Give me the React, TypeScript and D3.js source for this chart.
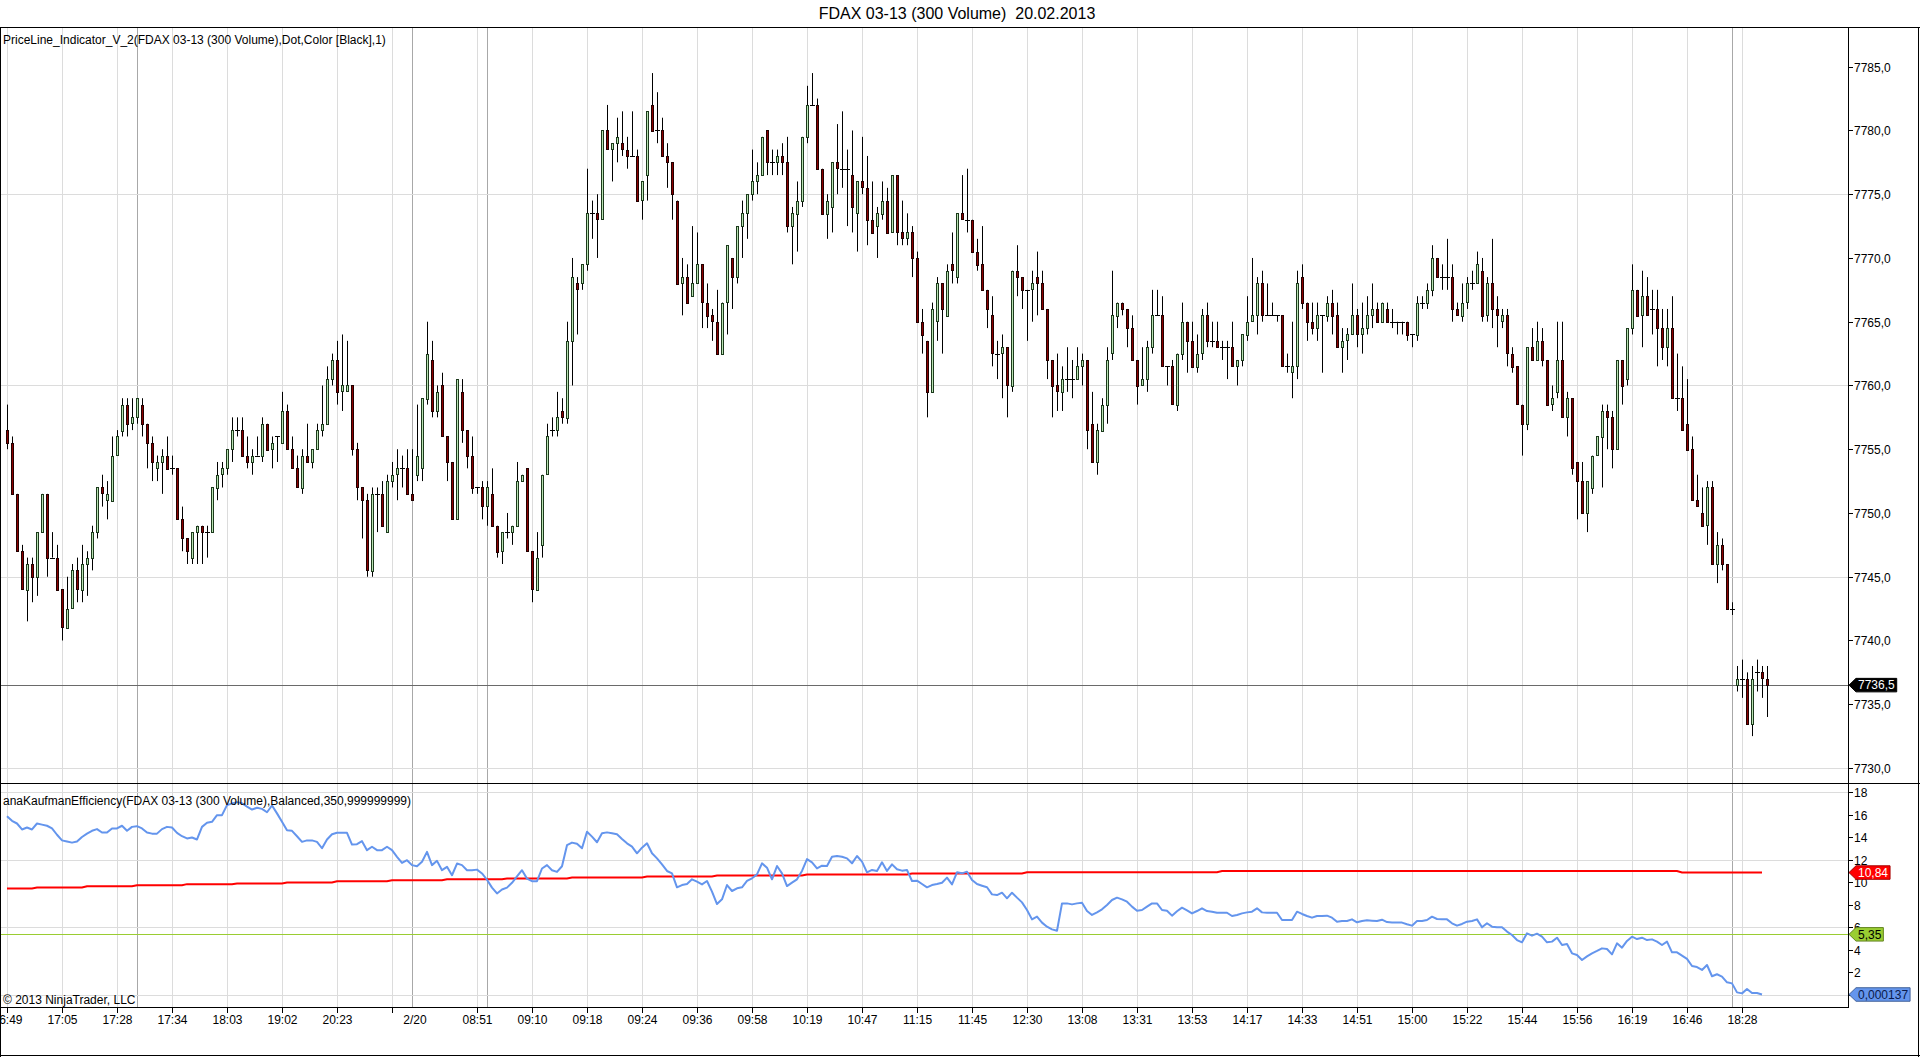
/**
 * FDAX 03-13 (300 Volume) candles with Kaufman efficiency sub-panel, NinjaTrader look
 */
import { useEffect, useRef } from 'react';
import * as d3 from 'd3';

// ---- price bars, one value per bar ----
const opens = [
  7756.5, 7755.5, 7751.5, 7747, 7744, 7746, 7745, 7748.5, 7751.5, 7746.5,
  7746.5, 7744, 7741, 7742.5, 7745.5, 7744, 7746, 7746.5, 7748.5, 7752,
  7751, 7751, 7754.5, 7756.5, 7758.5, 7757, 7757.5, 7758.5, 7757, 7755.5,
  7753.5, 7754, 7754.5, 7753.5, 7753.5, 7749.5, 7748, 7746.5, 7748.5, 7749,
  7748.5, 7748.5, 7752, 7753, 7753.5, 7755, 7756.5, 7756.5, 7754.5, 7754,
  7754.5, 7754.5, 7757, 7755, 7756, 7755.5, 7758, 7755, 7753.5, 7752,
  7754.5, 7754, 7755, 7756.5, 7757, 7760.5, 7762, 7759.5, 7759.5, 7760,
  7755, 7752, 7751, 7745.5, 7751.5, 7751.5, 7748.5, 7752.5, 7753, 7753.5,
  7753.5, 7751.5, 7753, 7753.5, 7759, 7762, 7758, 7760, 7756, 7754,
  7749.5, 7759.5, 7756.5, 7754.5, 7752, 7752, 7750.5, 7751.5, 7749, 7747,
  7748.5, 7748.5, 7749, 7752.5, 7753.5, 7747, 7744, 7747.5, 7753, 7756.5,
  7756.5, 7758, 7757.5, 7763.5, 7768, 7768, 7769.5, 7773.5, 7773.5, 7773,
  7780, 7778.5, 7779, 7779, 7778.5, 7778, 7778, 7774.5, 7776.5, 7782,
  7780, 7780, 7778, 7777.5, 7774.5, 7768, 7768.5, 7767, 7768, 7769.5,
  7766.5, 7765.5, 7765, 7762.5, 7766.5, 7770, 7768.5, 7772.5, 7773.5, 7775,
  7776, 7776.5, 7780, 7777.5, 7777.5, 7778, 7777.5, 7772.5, 7773.5, 7774.5,
  7779.5, 7782, 7782, 7777, 7773.5, 7774, 7777.5, 7777, 7777, 7776.5,
  7773.5, 7776, 7775.5, 7773, 7772.5, 7773.5, 7774.5, 7772, 7776.5, 7772,
  7771.5, 7772, 7770, 7765, 7763.5, 7759.5, 7765, 7768, 7765.5, 7769.5,
  7768.5, 7773.5, 7773, 7773, 7770.5, 7769.5, 7767.5, 7765.5, 7762.5, 7762.5,
  7763, 7760, 7769, 7768.5, 7767.5, 7767.5, 7768.5, 7768, 7766, 7762,
  7760, 7759.5, 7760.5, 7760.5, 7760.5, 7761.5, 7762, 7757, 7754, 7756.5,
  7758.5, 7762.5, 7765.5, 7766.5, 7766, 7764.5, 7762, 7760, 7760.5, 7763,
  7765.5, 7765.5, 7761.5, 7761.5, 7758.5, 7762.5, 7765, 7763.5, 7761.5, 7762.5,
  7765.5, 7763.5, 7763.5, 7763, 7763, 7763, 7761.5, 7762, 7764, 7765,
  7765.5, 7768, 7765.5, 7765.5, 7765.5, 7765.5, 7761.5, 7761, 7761.5, 7768.5,
  7766.5, 7765, 7764.5, 7765.5, 7765.5, 7766.5, 7765.5, 7763, 7763.5, 7764,
  7765.5, 7764, 7764.5, 7765.5, 7766, 7765, 7766, 7765, 7765, 7765,
  7765, 7764, 7764, 7766.5, 7766.5, 7767.5, 7770, 7768.5, 7768.5, 7768.5,
  7766, 7765.5, 7766.5, 7768, 7768, 7769, 7765.5, 7768, 7766, 7765,
  7765.5, 7762.5, 7761.5, 7758.5, 7757, 7763, 7762, 7763.5, 7762, 7758.5,
  7759.5, 7762, 7757.5, 7759, 7754, 7752.5, 7750, 7752, 7754.5, 7756,
  7758, 7757.5, 7755, 7762, 7760.5, 7764.5, 7767.5, 7765.5, 7767, 7766,
  7766, 7764.5, 7763, 7764.5, 7759, 7759, 7757, 7755, 7751, 7750,
  7749, 7752, 7746, 7747.5, 7746, 7742.5, 7736.5, 7737, 7737, 7733.5,
  7737.5, 7737.5, 7737,
];

const highs = [
  7758.5, 7756, 7751.5, 7747.5, 7746.5, 7746.5, 7748.5, 7751.5, 7751.5, 7748.5,
  7747.5, 7744, 7745, 7746, 7746.5, 7747.5, 7747, 7749, 7752, 7753,
  7752.5, 7756, 7756.5, 7759, 7759, 7759, 7759, 7759, 7757, 7756,
  7754.5, 7755, 7756, 7754.5, 7753.5, 7750.5, 7748, 7748.5, 7749, 7749,
  7749, 7752, 7754, 7754, 7755, 7757.5, 7757.5, 7757.5, 7756, 7755,
  7756, 7757.5, 7757, 7756, 7756, 7759.5, 7758.5, 7756, 7754.5, 7755,
  7757, 7755, 7757, 7760, 7761.5, 7762.5, 7763.5, 7764, 7763.5, 7760,
  7755.5, 7752, 7751.5, 7752, 7752, 7752.5, 7753, 7754, 7755, 7754.5,
  7755, 7755, 7758.5, 7759, 7765, 7763.5, 7760, 7761, 7756, 7754,
  7760.5, 7760.5, 7756.5, 7756, 7752, 7752.5, 7752.5, 7753.5, 7749, 7748.5,
  7750, 7749, 7754, 7753, 7753.5, 7747, 7748.5, 7753, 7757, 7757.5,
  7759.5, 7759, 7765, 7770, 7768.5, 7769.5, 7777, 7774.5, 7775, 7780,
  7782, 7779, 7781, 7781.5, 7779.5, 7781.5, 7778.5, 7776, 7781.5, 7784.5,
  7783, 7781, 7779, 7777.5, 7774.5, 7770, 7769.5, 7772.5, 7772, 7769.5,
  7768, 7766, 7767.5, 7766.5, 7771, 7770, 7772.5, 7774.5, 7775, 7778.5,
  7777.5, 7779.5, 7780, 7778.5, 7778.5, 7779, 7779.5, 7774, 7776, 7779.5,
  7783.5, 7784.5, 7782.5, 7777, 7775, 7777.5, 7780.5, 7781.5, 7778.5, 7780,
  7776, 7779.5, 7778, 7776, 7774, 7776, 7775.5, 7776.5, 7776.5, 7774.5,
  7773.5, 7772.5, 7770.5, 7766, 7763.5, 7766.5, 7768.5, 7768, 7769.5, 7772,
  7773.5, 7776.5, 7777, 7773, 7771.5, 7772.5, 7767.5, 7767, 7763.5, 7764,
  7763, 7769, 7771, 7768.5, 7767.5, 7769, 7770.5, 7769, 7766, 7762,
  7762.5, 7761.5, 7763, 7762, 7763, 7762.5, 7762, 7759.5, 7757, 7759,
  7763, 7769, 7766.5, 7766.5, 7766, 7765.5, 7762, 7763, 7763.5, 7767.5,
  7767.5, 7767, 7761.5, 7762, 7762.5, 7766.5, 7765, 7765, 7764, 7766,
  7766.5, 7765, 7765, 7763.5, 7763.5, 7765, 7762, 7764, 7767, 7770,
  7768.5, 7769, 7768, 7766.5, 7765.5, 7765.5, 7762.5, 7765, 7769, 7769.5,
  7766.5, 7766.5, 7766.5, 7765.5, 7767, 7767.5, 7766.5, 7764.5, 7764.5, 7768,
  7766, 7766.5, 7767, 7768, 7766.5, 7766.5, 7766.5, 7766, 7765, 7765,
  7765, 7764, 7767, 7767, 7768, 7771, 7770, 7769.5, 7771.5, 7769.5,
  7766.5, 7768, 7768.5, 7769, 7770.5, 7770, 7768.5, 7771.5, 7767, 7766,
  7766, 7763, 7761.5, 7758.5, 7763, 7764.5, 7765, 7764.5, 7762, 7760,
  7765, 7765, 7759.5, 7759, 7754, 7754, 7752.5, 7754.5, 7756, 7758.5,
  7758.5, 7758, 7762, 7762, 7764.5, 7769.5, 7767.5, 7769, 7768.5, 7767.5,
  7767.5, 7766, 7766, 7767, 7762.5, 7761.5, 7760.5, 7756, 7753, 7752,
  7752.5, 7752.5, 7748.5, 7748, 7746, 7743, 7738, 7738.5, 7737.5, 7738,
  7738.5, 7738, 7738,
];

const lows = [
  7755, 7751.5, 7747, 7744, 7741.5, 7743, 7743.5, 7748.5, 7745, 7746.5,
  7744, 7740, 7741, 7742.5, 7743, 7743, 7743.5, 7745.5, 7748, 7750.5,
  7749.5, 7751, 7754.5, 7756, 7756, 7756.5, 7757, 7756, 7753.5, 7752.5,
  7752.5, 7751.5, 7753.5, 7753, 7749.5, 7747, 7746, 7746, 7746, 7746,
  7746.5, 7748.5, 7751, 7752, 7753, 7754, 7756, 7754.5, 7753.5, 7753,
  7754.5, 7754, 7755, 7753.5, 7754, 7755.5, 7755, 7753.5, 7752, 7751.5,
  7754, 7753.5, 7755, 7756, 7757, 7760, 7758.5, 7758, 7759.5, 7754.5,
  7751, 7748, 7745, 7745, 7748.5, 7749, 7748.5, 7752, 7751, 7752,
  7751.5, 7751, 7752.5, 7752.5, 7758.5, 7757.5, 7757.5, 7756, 7752.5, 7749.5,
  7749.5, 7755.5, 7753.5, 7751.5, 7751.5, 7749.5, 7749, 7749, 7746.5, 7746,
  7748, 7747.5, 7749, 7752.5, 7747, 7743, 7744, 7746.5, 7753, 7756,
  7756, 7757, 7757, 7760, 7764, 7767.5, 7769, 7771.5, 7770, 7773,
  7778.5, 7776, 7777.5, 7778, 7777, 7778, 7774.5, 7773, 7774.5, 7780,
  7779, 7778, 7775.5, 7773, 7768, 7765.5, 7766.5, 7767, 7768, 7764.5,
  7764.5, 7763.5, 7762.5, 7762.5, 7764, 7766, 7768, 7770, 7771.5, 7774.5,
  7775, 7776.5, 7776.5, 7776.5, 7776.5, 7776.5, 7772, 7769.5, 7770.5, 7774,
  7779, 7782, 7777, 7773.5, 7771.5, 7772, 7775, 7775.5, 7772.5, 7772,
  7770.5, 7775, 7771, 7772, 7770, 7773, 7772, 7772, 7771, 7771,
  7771, 7768.5, 7765, 7762.5, 7757.5, 7759.5, 7763.5, 7762.5, 7765.5, 7768,
  7768, 7773, 7772, 7770.5, 7769, 7767.5, 7764.5, 7761.5, 7760.5, 7759,
  7757.5, 7759.5, 7767, 7766, 7763.5, 7765, 7765.5, 7766, 7760.5, 7757.5,
  7758, 7758, 7759.5, 7759, 7760.5, 7760, 7755, 7754, 7753, 7756.5,
  7757, 7762, 7764.5, 7765.5, 7763, 7762, 7758.5, 7760, 7759.5, 7762.5,
  7765.5, 7761.5, 7760, 7758.5, 7758, 7762, 7761, 7761.5, 7761, 7762,
  7763, 7763, 7763, 7762, 7760.5, 7761.5, 7760, 7761.5, 7763.5, 7765,
  7764, 7765, 7765.5, 7765.5, 7765, 7761.5, 7761, 7759, 7760.5, 7766,
  7763.5, 7764, 7763.5, 7761, 7765, 7764, 7763, 7761, 7762, 7764,
  7763, 7762.5, 7764, 7764.5, 7765, 7765, 7765, 7764.5, 7764, 7764,
  7763.5, 7763, 7763.5, 7766, 7766, 7767, 7768.5, 7767.5, 7767.5, 7765,
  7765.5, 7765, 7766, 7767.5, 7768, 7765, 7765, 7764.5, 7763, 7764.5,
  7761.5, 7761, 7758.5, 7754.5, 7756.5, 7762, 7762, 7761.5, 7758.5, 7758,
  7759, 7757.5, 7756, 7753, 7749.5, 7750, 7748.5, 7751.5, 7754.5, 7752,
  7755, 7753.5, 7755, 7758.5, 7760, 7764, 7765.5, 7763, 7765.5, 7764,
  7761.5, 7762, 7761.5, 7759, 7758, 7756.5, 7755, 7751, 7750.5, 7749,
  7747.5, 7746, 7744.5, 7745.5, 7742.5, 7742, 7736, 7735.5, 7733.5, 7732.5,
  7736, 7735.5, 7734,
];

const closes = [
  7755.5, 7751.5, 7747, 7744, 7746, 7745, 7748.5, 7751.5, 7746.5, 7746.5,
  7744, 7741, 7742.5, 7745.5, 7744, 7746, 7746.5, 7748.5, 7752, 7751.5,
  7751.5, 7754.5, 7756, 7758.5, 7757, 7757.5, 7759, 7757, 7755.5, 7754,
  7754, 7754.5, 7753.5, 7753.5, 7749.5, 7748, 7747, 7748.5, 7749, 7748.5,
  7748.5, 7752, 7753, 7753.5, 7755, 7756.5, 7756.5, 7754.5, 7754, 7754.5,
  7754.5, 7757, 7755, 7755.5, 7756, 7758, 7755, 7753.5, 7752, 7754.5,
  7754, 7755, 7756.5, 7757, 7760.5, 7762, 7759.5, 7760, 7760, 7755,
  7752, 7751, 7745.5, 7751.5, 7751.5, 7749, 7752.5, 7753, 7753.5, 7753.5,
  7751.5, 7751, 7754.5, 7759, 7762.5, 7758, 7759.5, 7756, 7754, 7749.5,
  7760.5, 7756.5, 7754.5, 7752, 7752, 7750.5, 7752, 7749, 7747, 7748.5,
  7748.5, 7749, 7752.5, 7753, 7747, 7744, 7746.5, 7753, 7756, 7756.5,
  7757.5, 7757.5, 7763.5, 7768.5, 7767.5, 7769.5, 7773.5, 7773.5, 7773, 7780,
  7778.5, 7779, 7779.5, 7778.5, 7778, 7778, 7774.5, 7776, 7781.5, 7780,
  7780, 7778, 7777.5, 7775, 7768, 7768.5, 7766.5, 7768, 7769.5, 7766.5,
  7765.5, 7765, 7762.5, 7766.5, 7771, 7768.5, 7772.5, 7773.5, 7775, 7776,
  7776.5, 7779.5, 7777.5, 7777.5, 7778, 7777.5, 7772.5, 7773.5, 7774.5, 7779.5,
  7782, 7782, 7777, 7773.5, 7774.5, 7777.5, 7777, 7777, 7777, 7774,
  7776, 7775.5, 7773, 7772, 7773.5, 7774.5, 7772, 7776.5, 7772, 7771.5,
  7772, 7770, 7765, 7764, 7759.5, 7766, 7768, 7766, 7769, 7769,
  7773.5, 7773, 7773, 7770.5, 7769.5, 7767.5, 7766, 7762.5, 7762.5, 7763,
  7760, 7769, 7768.5, 7767.5, 7767.5, 7768, 7768, 7766, 7762, 7760,
  7759.5, 7760.5, 7760.5, 7760.5, 7761.5, 7762, 7756.5, 7754, 7756.5, 7758.5,
  7762, 7765.5, 7766.5, 7766, 7764.5, 7762, 7760, 7760.5, 7763, 7765.5,
  7765.5, 7761.5, 7761.5, 7758.5, 7762.5, 7765, 7763.5, 7761.5, 7762.5, 7765.5,
  7763.5, 7763.5, 7763, 7763, 7763, 7761.5, 7762, 7764, 7765, 7765.5,
  7768, 7765.5, 7765.5, 7765.5, 7765.5, 7761.5, 7761.5, 7761.5, 7768, 7766.5,
  7765, 7764.5, 7765.5, 7765.5, 7766.5, 7765.5, 7763, 7763.5, 7764, 7765.5,
  7764, 7764.5, 7765.5, 7766, 7765, 7766.5, 7765, 7765, 7765, 7765,
  7764, 7764, 7766.5, 7766.5, 7767.5, 7770, 7768.5, 7768.5, 7768.5, 7766,
  7765.5, 7766.5, 7768, 7768, 7769.5, 7765.5, 7768, 7766, 7765.5, 7765.5,
  7762.5, 7761.5, 7758.5, 7757, 7763, 7762, 7763.5, 7762, 7758.5, 7759,
  7762, 7757.5, 7759, 7753.5, 7752.5, 7750, 7752.5, 7754.5, 7756, 7758,
  7757.5, 7755, 7762, 7760, 7764.5, 7767.5, 7765.5, 7767, 7765.5, 7766,
  7764.5, 7763, 7764.5, 7759, 7759, 7756.5, 7755, 7751, 7750.5, 7749,
  7752, 7746, 7747.5, 7746, 7742.5, 7742.5, 7737, 7737, 7733.5, 7737,
  7737.5, 7737, 7736.5,
];

// ---- anaKaufmanEfficiency, one value per closed bar ----
const efficiency = [
  15.85, 15.44, 15.2, 14.67, 14.84, 14.67, 15.2, 15.1, 15.0, 14.76,
  14.2, 13.7, 13.6, 13.5, 13.6, 14.0, 14.3, 14.55, 14.7, 14.4,
  14.4, 14.76, 14.76, 15.0, 14.55, 14.9, 14.96, 14.76, 14.4, 14.3,
  14.3, 14.7, 14.9, 14.84, 14.37, 14.07, 13.87, 13.96, 13.78, 14.9,
  15.26, 15.35, 15.94, 15.94, 16.83, 16.98, 17.1, 17.0, 16.7, 16.44,
  16.6, 16.5, 16.2, 16.8, 16.1, 15.35, 14.6, 14.55, 14.07, 13.57,
  13.7, 13.7, 13.57, 13.0, 13.78, 14.25, 14.37, 14.37, 14.37, 13.33,
  13.36, 13.63, 12.83, 13.13, 12.83, 12.83, 13.13, 12.83, 12.24, 11.7,
  11.94, 11.5, 11.4, 11.8, 12.68, 11.5, 11.88, 11.05, 11.35, 10.6,
  11.64, 11.5, 11.05, 11.05, 11.1, 10.76, 10.2, 9.5, 8.98, 9.33,
  9.5, 9.93, 10.5, 11.05, 10.3, 10.07, 10.07, 11.2, 11.5, 11.05,
  10.9, 11.4, 13.27, 13.5, 13.4, 13.0, 14.47, 14.03, 13.53, 14.33,
  14.41, 14.33, 14.24, 13.82, 13.44, 13.14, 12.55, 13.05, 13.44, 12.55,
  12.1, 11.57, 10.98, 10.77, 9.53, 9.73, 9.82, 10.24, 10.03, 9.79,
  10.09, 9.14, 8.04, 8.46, 9.73, 9.2, 9.44, 9.53, 10.09, 10.33,
  10.68, 11.66, 11.27, 10.24, 11.42, 10.77, 9.64, 9.94, 10.24, 10.98,
  12.04, 11.75, 11.21, 11.45, 11.42, 12.25, 12.31, 12.25, 12.1, 11.66,
  12.31, 11.81, 10.86, 11.07, 10.98, 11.75, 10.98, 11.57, 11.13, 11.01,
  11.07, 10.09, 10.12, 9.82, 9.53, 9.73, 9.82, 9.94, 10.39, 9.79,
  10.86, 10.77, 10.92, 10.18, 9.82, 9.67, 9.53, 8.9, 8.84, 9.05,
  8.55, 9.05, 8.61, 8.19, 7.51, 6.68, 6.92, 6.39, 6.03, 5.79,
  5.67, 8.1, 8.1, 8.01, 8.1, 8.16, 7.42, 7.07, 7.3, 7.57,
  7.96, 8.4, 8.61, 8.46, 8.25, 7.81, 7.45, 7.51, 7.81, 8.1,
  8.1, 7.51, 7.45, 7.01, 7.4, 7.72, 7.48, 7.21, 7.42, 7.66,
  7.42, 7.36, 7.27, 7.27, 7.27, 6.98, 7.07, 7.21, 7.3, 7.36,
  7.66, 7.3, 7.27, 7.27, 7.27, 6.62, 6.62, 6.62, 7.36, 7.16,
  6.98, 6.83, 6.98, 6.98, 7.01, 6.83, 6.47, 6.53, 6.53, 6.68,
  6.42, 6.53, 6.59, 6.56, 6.53, 6.65, 6.44, 6.41, 6.39, 6.39,
  6.24, 6.12, 6.53, 6.53, 6.62, 6.92, 6.71, 6.68, 6.68, 6.33,
  6.12, 6.27, 6.47, 6.53, 6.68, 5.97, 6.33, 6.03, 5.97, 5.97,
  5.59, 5.29, 4.84, 4.64, 5.44, 5.23, 5.41, 5.14, 4.64, 4.7,
  5.05, 4.4, 4.49, 3.66, 3.51, 3.07, 3.39, 3.66, 3.87, 4.1,
  4.04, 3.57, 4.55, 4.16, 4.76, 5.14, 4.93, 5.05, 4.84, 4.9,
  4.7, 4.4, 4.7, 3.75, 3.75, 3.45, 3.16, 2.53, 2.44, 2.18,
  2.62, 1.62, 1.8, 1.59, 1.08, 0.99, 0.19, 0.1, 0.49, 0.13,
  0.13, 0.000137,
];

// threshold line: bar where each level starts, and its level
const thresholdStart = [0, 6, 16, 26, 36, 46, 56, 66, 77, 88, 100, 113, 128, 142, 160, 181, 204, 243, 335];
const thresholdLevel = [9.42, 9.51, 9.63, 9.72, 9.81, 9.87, 9.96, 10.07, 10.16, 10.25, 10.31, 10.4, 10.49, 10.58, 10.67, 10.76, 10.86, 10.98, 10.84];
const thresholdLast = 351;
const signalLevel = 5.35;

// axes
const priceTicks = [7730, 7735, 7740, 7745, 7750, 7755, 7760, 7765, 7770, 7775, 7780, 7785];
const priceGrid = [7730, 7745, 7760, 7775];
const effTicks = [0, 2, 4, 6, 8, 10, 12, 14, 16, 18];
const effGrid = [0, 6, 12, 18];
const timeBars = [0, 11, 22, 33, 44, 55, 66, 77, 94, 105, 116, 127, 138, 149, 160, 171, 182, 193, 204, 215, 226, 237, 248, 259, 270, 281, 292, 303, 314, 325, 336, 347];
const timeLabels = ['16:49', '17:05', '17:28', '17:34', '18:03', '19:02', '20:23', '', '08:51', '09:10', '09:18', '09:24', '09:36', '09:58', '10:19', '10:47', '11:15', '11:45', '12:30', '13:08', '13:31', '13:53', '14:17', '14:33', '14:51', '15:00', '15:22', '15:44', '15:56', '16:19', '16:46', '18:28'];
const sessionBars = [26, 81, 96, 345];
const dateBar = 81;
const dateLabel = '2/20';

export default function App() {
  const svgRef = useRef<SVGSVGElement>(null);

  useEffect(() => {
    if (!svgRef.current) return;
    const svg = d3.select(svgRef.current);
    svg.selectAll('*').remove();

    const W = 1920, H = 1057;
    const axisX = 1848, top = 27, split = 783, effBottom = 1007;
    const font = '"Liberation Sans", Arial, sans-serif';
    const n = closes.length;

    const x = d3.scaleLinear().domain([0, n - 1]).range([7, 1767]);
    const yP = d3.scaleLinear().domain([7730, 7785]).range([768, 66.7]);
    const yE = d3.scaleLinear().domain([0, 18]).range([994.5, 792]);
    const loc = d3.formatLocale({ decimal: ',', thousands: '.', grouping: [3], currency: ['', ''] });
    const f1 = loc.format('.1f');
    const f2 = loc.format('.2f');
    const c = (v: number) => Math.round(v) + 0.5;

    svg.append('rect').attr('width', W).attr('height', H).attr('fill', '#fff');

    const defs = svg.append('defs');
    defs.append('clipPath').attr('id', 'clipP').append('rect')
      .attr('x', 1).attr('y', top + 1).attr('width', axisX - 1).attr('height', split - top - 1);
    defs.append('clipPath').attr('id', 'clipE').append('rect')
      .attr('x', 1).attr('y', split + 1).attr('width', axisX - 1).attr('height', effBottom - split - 1);

    const gP = svg.append('g').attr('clip-path', 'url(#clipP)');
    const gE = svg.append('g').attr('clip-path', 'url(#clipE)');

    // vertical grid in both panels
    [[gP, top, split], [gE, split, effBottom]].forEach(([g, y0, y1]: any) => {
      g.selectAll(null).data(timeBars).join('line')
        .attr('x1', (d: number) => c(x(d))).attr('x2', (d: number) => c(x(d)))
        .attr('y1', y0).attr('y2', y1).attr('stroke', '#dcdcdc').attr('stroke-width', 1);
      g.selectAll(null).data(sessionBars).join('line')
        .attr('x1', (d: number) => c(x(d))).attr('x2', (d: number) => c(x(d)))
        .attr('y1', y0).attr('y2', y1).attr('stroke', '#a8a8a8').attr('stroke-width', 1);
    });

    // horizontal grid
    gP.selectAll(null).data(priceGrid).join('line')
      .attr('x1', 0).attr('x2', axisX).attr('y1', d => c(yP(d))).attr('y2', d => c(yP(d)))
      .attr('stroke', '#dcdcdc');
    gE.selectAll(null).data(effGrid).join('line')
      .attr('x1', 0).attr('x2', axisX).attr('y1', d => c(yE(d))).attr('y2', d => c(yE(d)))
      .attr('stroke', '#dcdcdc');

    // last price line
    const last = closes[n - 1];
    gP.append('line').attr('x1', 0).attr('x2', axisX).attr('y1', c(yP(last))).attr('y2', c(yP(last)))
      .attr('stroke', '#6a6a6a');

    // candles: wick, then body (3px incl. outline), dojis as a tick
    const idx = d3.range(n);
    gP.selectAll(null).data(idx).join('line')
      .attr('x1', i => c(x(i))).attr('x2', i => c(x(i)))
      .attr('y1', i => yP(highs[i])).attr('y2', i => yP(lows[i]))
      .attr('stroke', '#000').attr('stroke-width', 1);
    gP.selectAll(null).data(idx.filter(i => opens[i] !== closes[i])).join('rect')
      .attr('x', i => Math.round(x(i)) - 0.5).attr('width', 2)
      .attr('y', i => Math.round(yP(Math.max(opens[i], closes[i]))) + 0.5)
      .attr('height', i => Math.max(1, Math.round(yP(Math.min(opens[i], closes[i])) - yP(Math.max(opens[i], closes[i])))))
      .attr('fill', i => (closes[i] > opens[i] ? '#b8e2b2' : '#8b0000'))
      .attr('stroke', i => (closes[i] > opens[i] ? '#1c3a1c' : '#200000')).attr('stroke-width', 1);
    gP.selectAll(null).data(idx.filter(i => opens[i] === closes[i])).join('line')
      .attr('x1', i => Math.round(x(i)) - 2).attr('x2', i => Math.round(x(i)) + 3)
      .attr('y1', i => c(yP(closes[i]))).attr('y2', i => c(yP(closes[i])))
      .attr('stroke', '#000');

    // efficiency panel
    gE.append('line').attr('x1', 0).attr('x2', axisX)
      .attr('y1', c(yE(signalLevel))).attr('y2', c(yE(signalLevel)))
      .attr('stroke', '#9acd32').attr('stroke-width', 1);

    const thrPts: [number, number][] = [];
    thresholdStart.forEach((s, k) => {
      const e = k + 1 < thresholdStart.length ? thresholdStart[k + 1] - 1 : thresholdLast;
      thrPts.push([s, thresholdLevel[k]], [e, thresholdLevel[k]]);
    });
    gE.append('path').datum(thrPts)
      .attr('d', d3.line<[number, number]>().x(d => x(d[0])).y(d => yE(d[1])))
      .attr('fill', 'none').attr('stroke', '#ff0000').attr('stroke-width', 2);

    gE.append('path').datum(efficiency)
      .attr('d', d3.line<number>().x((_, i) => x(i)).y(d => yE(d)))
      .attr('fill', 'none').attr('stroke', '#6495ed').attr('stroke-width', 2)
      .attr('stroke-linejoin', 'round');

    // frames
    const frame = svg.append('g').attr('stroke', '#000').attr('stroke-width', 1);
    frame.append('line').attr('x1', 0).attr('x2', W).attr('y1', top + 0.5).attr('y2', top + 0.5);
    frame.append('line').attr('x1', 0.5).attr('x2', 0.5).attr('y1', top).attr('y2', H);
    frame.append('line').attr('x1', W - 1.5).attr('x2', W - 1.5).attr('y1', top).attr('y2', H);
    frame.append('line').attr('x1', 0).attr('x2', W).attr('y1', H - 1.5).attr('y2', H - 1.5);
    frame.append('line').attr('x1', 0).attr('x2', W).attr('y1', split + 0.5).attr('y2', split + 0.5);
    frame.append('line').attr('x1', 0).attr('x2', axisX).attr('y1', effBottom + 0.5).attr('y2', effBottom + 0.5);
    frame.append('line').attr('x1', axisX + 0.5).attr('x2', axisX + 0.5).attr('y1', top).attr('y2', effBottom + 1);

    // price axis
    const txt = svg.append('g').attr('font-family', font).attr('font-size', 12).attr('fill', '#000');
    priceTicks.forEach(v => {
      const yy = c(yP(v));
      frame.append('line').attr('x1', axisX).attr('x2', axisX + 5).attr('y1', yy).attr('y2', yy);
      txt.append('text').attr('x', axisX + 6).attr('y', yy).attr('dy', '0.35em').text(f1(v));
    });
    effTicks.forEach(v => {
      const yy = c(yE(v));
      frame.append('line').attr('x1', axisX).attr('x2', axisX + 5).attr('y1', yy).attr('y2', yy);
      txt.append('text').attr('x', axisX + 6).attr('y', yy).attr('dy', '0.35em').text(String(v));
    });

    // time axis
    timeBars.forEach((b, k) => {
      const xx = c(x(b));
      frame.append('line').attr('x1', xx).attr('x2', xx).attr('y1', effBottom).attr('y2', effBottom + 6);
      if (timeLabels[k]) {
        txt.append('text').attr('x', xx).attr('y', 1024).attr('text-anchor', 'middle').text(timeLabels[k]);
      }
    });
    txt.append('text').attr('x', x(dateBar) + 3).attr('y', 1024).attr('text-anchor', 'middle').text(dateLabel);

    // titles
    txt.append('text').attr('x', 957).attr('y', 19).attr('text-anchor', 'middle').attr('font-size', 16)
      .attr('xml:space', 'preserve').text('FDAX 03-13 (300 Volume)  20.02.2013');
    txt.append('text').attr('x', 3).attr('y', 44)
      .text('PriceLine_Indicator_V_2(FDAX 03-13 (300 Volume),Dot,Color [Black],1)');
    txt.append('text').attr('x', 3).attr('y', 805)
      .text('anaKaufmanEfficiency(FDAX 03-13 (300 Volume),Balanced,350,999999999)');
    txt.append('text').attr('x', 3).attr('y', 1004).text('\u00a9 2013 NinjaTrader, LLC');

    // value markers on the axis
    const marker = (cy: number, label: string, fill: string, color: string) => {
      const g = svg.append('g').attr('font-family', font).attr('font-size', 12);
      const t = g.append('text').attr('x', axisX + 10).attr('y', cy).attr('dy', '0.36em')
        .attr('fill', color).text(label);
      const w = (t.node() as SVGTextElement).getComputedTextLength();
      const h = 13.5, r = axisX + 10 + w + 2;
      g.insert('path', 'text')
        .attr('d', `M${axisX + 1},${cy} L${axisX + 8},${cy - h / 2} L${r},${cy - h / 2} L${r},${cy + h / 2} L${axisX + 8},${cy + h / 2} Z`)
        .attr('fill', fill).attr('stroke', d3.color(fill)!.darker(1.2).formatHex()).attr('stroke-width', 1);
    };
    marker(yP(last), f1(last), '#000000', '#fff');
    marker(yE(thresholdLevel[thresholdLevel.length - 1]), f2(thresholdLevel[thresholdLevel.length - 1]), '#ff0000', '#fff');
    marker(yE(signalLevel), f2(signalLevel), '#9acd32', '#000');
    marker(yE(efficiency[efficiency.length - 1]), loc.format('.6f')(efficiency[efficiency.length - 1]), '#6495ed', '#0a1a4a');
  }, []);

  return (
    <div style={{ position: 'absolute', left: 0, top: 0 }}>
      <svg ref={svgRef} width={1920} height={1057} style={{ display: 'block' }} />
    </div>
  );
}
